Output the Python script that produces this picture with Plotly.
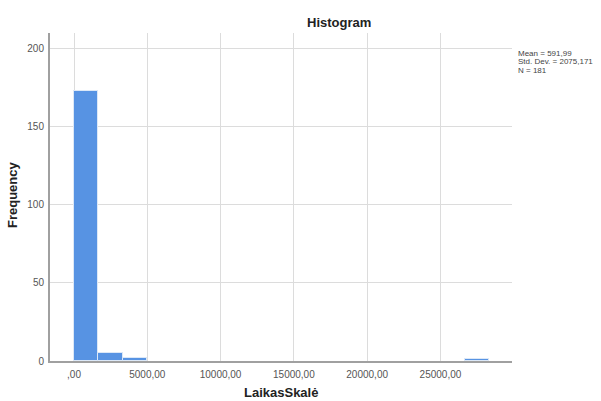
import plotly.graph_objects as go

# Histogram of LaikasSkalė: counts per bin, bins of equal width starting at 0
bin_width = 5000 / 3
counts = [173, 5, 2, 0, 0, 0, 0, 0, 0, 0, 0, 0, 0, 0, 0, 0, 1]
x_ticks = [0, 5000, 10000, 15000, 20000, 25000]
x_tick_labels = [",00", "5000,00", "10000,00", "15000,00", "20000,00", "25000,00"]
y_ticks = [0, 50, 100, 150, 200]
stats_lines = ["Mean = 591,99", "Std. Dev. = 2075,171", "N = 181"]

centers = [(i + 0.5) * bin_width for i in range(len(counts))]
# empty bins get no outline so nothing is drawn along the baseline
outline_widths = [1 if c > 0 else 0 for c in counts]

fig = go.Figure(
    go.Bar(
        x=centers,
        y=counts,
        width=[bin_width] * len(counts),
        marker=dict(color="#5793e3", line=dict(color="#dce8f7", width=outline_widths)),
        hoverinfo="x+y",
    )
)

font_family = "Liberation Sans, Arial, sans-serif"

fig.update_layout(
    width=601,
    height=401,
    margin=dict(l=50, r=89, t=33, b=40),
    paper_bgcolor="white",
    plot_bgcolor="white",
    showlegend=False,
    font=dict(family=font_family, size=10, color="#555"),
    bargap=0,
)

fig.update_xaxes(
    range=[-1637, 29880],
    tickvals=x_ticks,
    ticktext=x_tick_labels,
    showgrid=True,
    gridcolor="#dcdcdc",
    gridwidth=1,
    showline=True,
    linecolor="#a0a0a0",
    linewidth=2,
    zeroline=False,
    ticks="",
    ticklabelstandoff=3,
    tickfont=dict(size=10, color="#555"),
)
fig.update_yaxes(
    range=[0, 210],
    tickvals=y_ticks,
    showgrid=True,
    gridcolor="#dcdcdc",
    gridwidth=1,
    showline=True,
    linecolor="#a0a0a0",
    linewidth=2,
    zeroline=False,
    ticks="",
    ticklabelstandoff=2,
    tickfont=dict(size=10, color="#555"),
)

fig.add_annotation(
    text="<b>Histogram</b>", xref="paper", yref="paper",
    x=(339 - 50) / 462, y=1 + 11 / 328, xanchor="center", yanchor="middle",
    showarrow=False, font=dict(size=13, color="#222"),
)
fig.add_annotation(
    text="<b>Frequency</b>", xref="paper", yref="paper",
    x=(12 - 50) / 462, y=(361 - 195) / 328, xanchor="center", yanchor="middle",
    textangle=-90, showarrow=False, font=dict(size=13, color="#222"),
)
fig.add_annotation(
    text="<b>LaikasSkalė</b>", xref="paper", yref="paper",
    x=(281 - 50) / 462, y=-(392 - 361) / 328, xanchor="center", yanchor="middle",
    showarrow=False, font=dict(size=13, color="#222"),
)
for i, line in enumerate(stats_lines):
    fig.add_annotation(
        text=line, xref="paper", yref="paper",
        x=(517 - 50) / 462, y=(361 - (54 + 8 * i)) / 328,
        xanchor="left", yanchor="middle", align="left", showarrow=False,
        borderpad=0, font=dict(size=8, color="#444"),
    )

fig.write_html("out.html")
